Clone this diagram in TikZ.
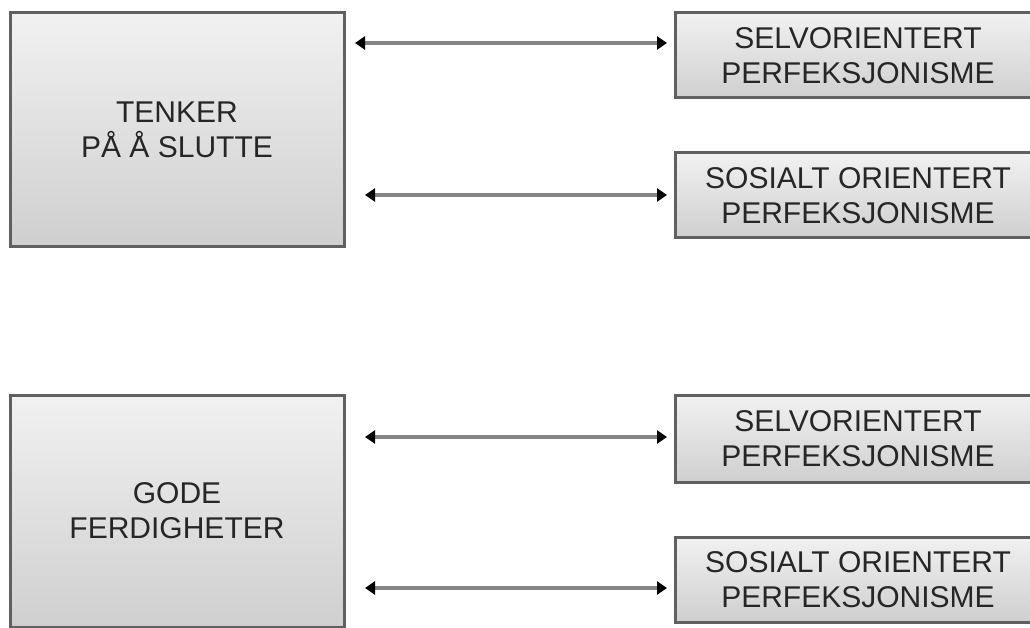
\documentclass[tikz,border=0pt]{standalone}
\usepackage{fontspec}
\setmainfont{Liberation Sans}
\usetikzlibrary{arrows.meta}
\definecolor{boxtop}{HTML}{F1F1F1}
\definecolor{boxbot}{HTML}{CFCFCF}
\definecolor{boxline}{HTML}{606060}
\definecolor{linkline}{HTML}{858585}
\begin{document}
\begin{tikzpicture}[x=1pt,y=-1pt,
  panel/.style={draw=boxline, line width=3pt, top color=boxtop, bottom color=boxbot,
    rectangle, align=center, inner sep=0pt, text=black!85,
    font=\fontsize{30}{35}\selectfont},
  bigpanel/.style={panel, minimum width=334pt},
  smallpanel/.style={panel, minimum width=366pt},
  link/.style={draw=linkline, line width=3.2pt,
    {Triangle[length=10pt,width=13pt,color=black]}-{Triangle[length=10pt,width=13pt,color=black]}}]
  \useasboundingbox (0,0) rectangle (1030,628);
  \clip (0,0) rectangle (1030,628);

  % left-hand boxes
  \node[bigpanel, minimum height=234pt] (tenker) at (177,130) {TENKER\\PÅ Å SLUTTE};
  \node[bigpanel, minimum height=232pt] (gode) at (177,511) {GODE\\FERDIGHETER};

  % right-hand boxes
  \node[smallpanel, minimum height=85pt] (selv1) at (858,55.5) {SELVORIENTERT\\PERFEKSJONISME};
  \node[smallpanel, minimum height=85pt] (sos1) at (858,195.5) {SOSIALT ORIENTERT\\PERFEKSJONISME};
  \node[smallpanel, minimum height=87pt] (selv2) at (858,438.5) {SELVORIENTERT\\PERFEKSJONISME};
  \node[smallpanel, minimum height=85pt] (sos2) at (858,579.5) {SOSIALT ORIENTERT\\PERFEKSJONISME};

  % arrow end points
  \coordinate (a1l) at (355,43);  \coordinate (a1r) at (667,43);
  \coordinate (a2l) at (365,195); \coordinate (a2r) at (667,195);
  \coordinate (a3l) at (365,437); \coordinate (a3r) at (667,437);
  \coordinate (a4l) at (365,588); \coordinate (a4r) at (667,588);

  % two-way links
  \draw[link] (a1l) -- (a1r);
  \draw[link] (a2l) -- (a2r);
  \draw[link] (a3l) -- (a3r);
  \draw[link] (a4l) -- (a4r);
\end{tikzpicture}
\end{document}
